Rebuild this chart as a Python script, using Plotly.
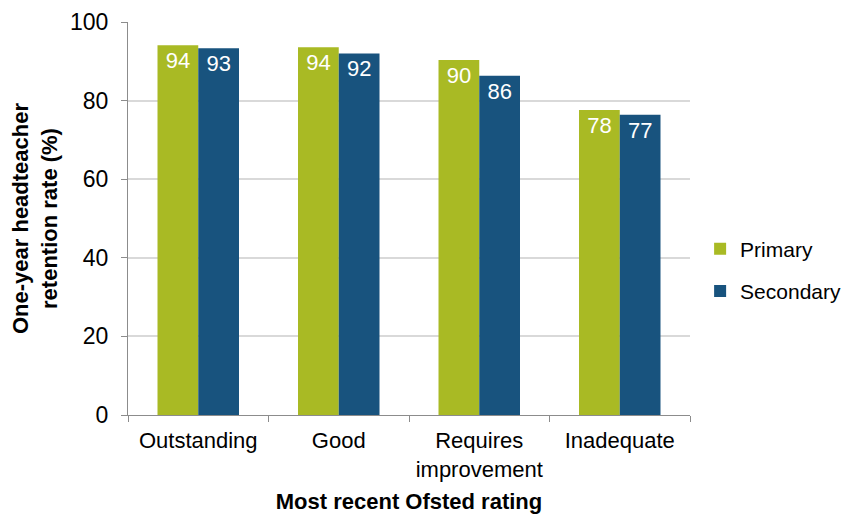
import plotly.graph_objects as go

categories = ["Outstanding", "Good", "Requires<br>improvement", "Inadequate"]
primary = [94.1, 93.6, 90.3, 77.6]
secondary = [93.3, 92.0, 86.3, 76.4]
primary_labels = ["94", "94", "90", "78"]
secondary_labels = ["93", "92", "86", "77"]

FONT = "Liberation Sans, Arial, sans-serif"

fig = go.Figure()
fig.add_trace(go.Bar(name="Primary", x=categories, y=primary, text=primary_labels,
                     legendgroup="p",
                     marker=dict(color="#a9ba24", line=dict(width=0)),
                     textposition="inside", insidetextanchor="end",
                     textfont=dict(color="white", size=22, family=FONT), textangle=0))
fig.add_trace(go.Bar(name="Secondary", x=categories, y=secondary, text=secondary_labels,
                     legendgroup="s",
                     marker=dict(color="#18537e", line=dict(width=0)),
                     textposition="inside", insidetextanchor="end",
                     textfont=dict(color="white", size=22, family=FONT), textangle=0))

fig.update_layout(
    width=844, height=507,
    margin=dict(l=120, r=162, t=14, b=100, autoexpand=False),
    paper_bgcolor="white", plot_bgcolor="white",
    barmode="group", bargap=0.42, bargroupgap=0,
    font=dict(family=FONT, size=22, color="black"),
    legend=dict(x=1.018, y=0.369, xanchor="left", yanchor="middle",
                font=dict(size=21, family=FONT), itemsizing="constant",
                tracegroupgap=12),
    xaxis=dict(
        title=dict(text="<b>Most recent Ofsted rating</b>", font=dict(size=22), standoff=12),
        showline=True, linecolor="#8c8c8c", linewidth=1,
        ticks="outside", tickson="boundaries", ticklen=6, tickcolor="#8c8c8c",
        tickfont=dict(size=22), ticklabelstandoff=6, tickangle=0,
        showgrid=False, automargin=False,
    ),
    yaxis=dict(
        title=dict(text="<b>One-year headteacher<br>retention rate (%)</b>", font=dict(size=22), standoff=10),
        range=[0, 100], dtick=20, showline=True, linecolor="#8c8c8c", linewidth=1,
        ticks="outside", ticklen=6, tickcolor="#8c8c8c", ticklabelstandoff=8,
        showgrid=True, gridcolor="#d9d9d9", gridwidth=2,
        tickfont=dict(size=23), zeroline=False, automargin=False,
    ),
)

fig.write_html("out.html")
